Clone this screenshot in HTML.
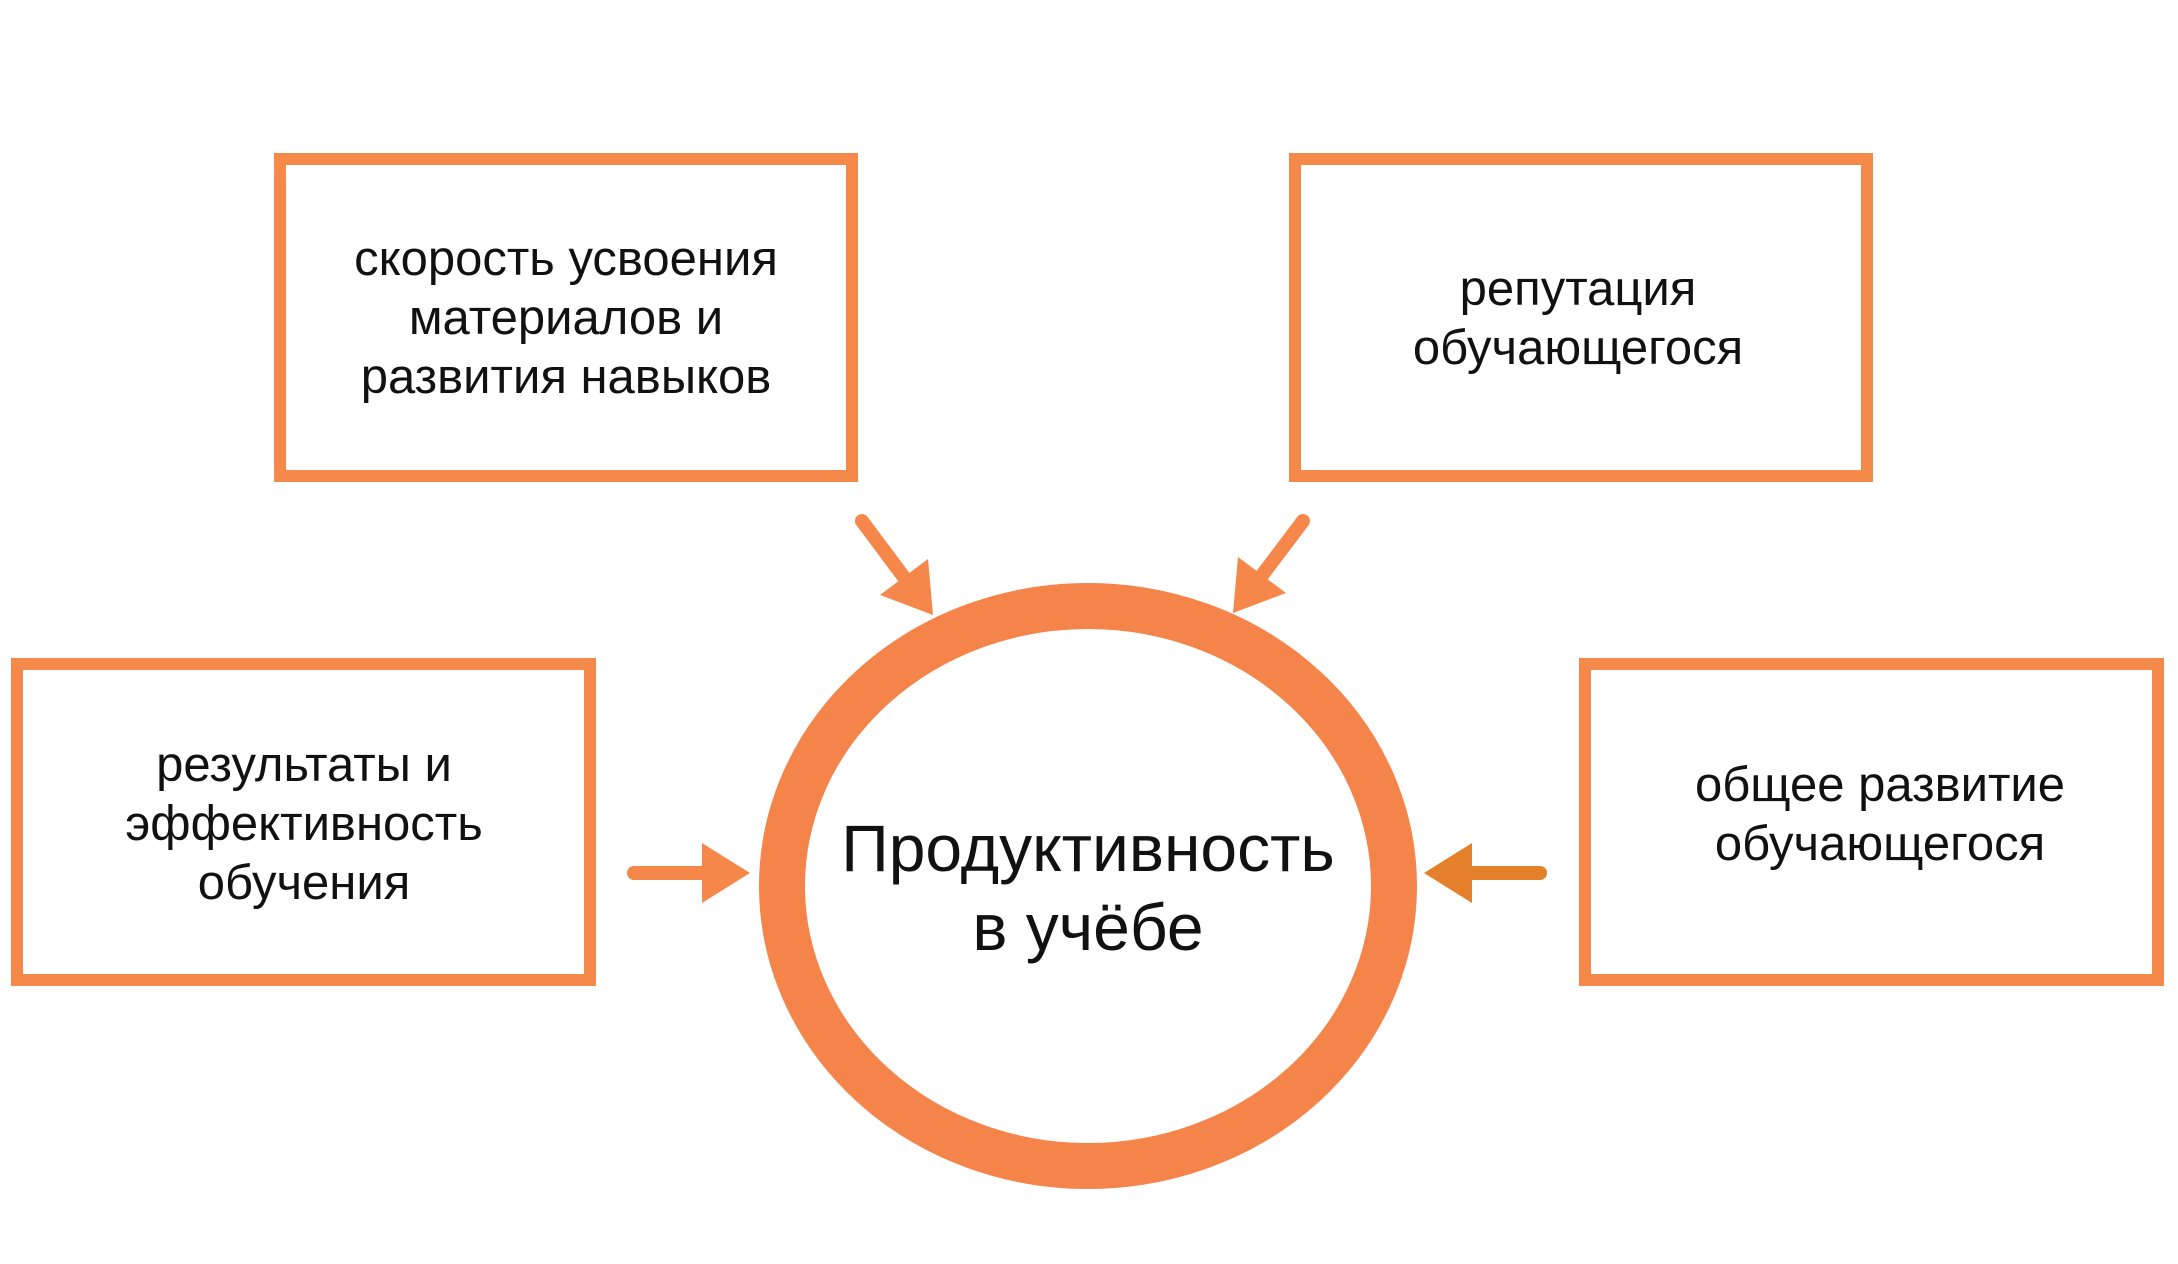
<!DOCTYPE html>
<html><head><meta charset="utf-8"><style>
html,body{margin:0;padding:0;background:#fff;}
svg{display:block}
text{font-family:"Liberation Sans","DejaVu Sans",sans-serif;fill:#111;}
</style></head><body>
<svg width="2178" height="1264" viewBox="0 0 2178 1264" xmlns="http://www.w3.org/2000/svg">
<g fill="none" stroke="#f5894a" stroke-width="12">
<rect x="280" y="159" width="572" height="317"/>
<rect x="1295" y="159" width="572" height="317"/>
<rect x="17" y="664" width="573" height="316"/>
<rect x="1585" y="664" width="573" height="316"/>
</g>
<ellipse cx="1088" cy="886" rx="306" ry="280" fill="none" stroke="#f5844a" stroke-width="46"/>
<g stroke-width="14" stroke-linecap="round" fill="none" stroke="#f5874a">
<line x1="634" y1="873" x2="706" y2="873"/>
<line x1="1540" y1="873" x2="1468" y2="873" stroke="#e5802a"/>
<line x1="862" y1="521" x2="906" y2="580"/>
<line x1="1303" y1="521" x2="1260" y2="578"/>
</g>
<g fill="#f5874a">
<polygon points="750,873 702,843 702,903"/>
<polygon points="1424,873 1472,843 1472,903" fill="#e5802a"/>
<polygon points="933,615 928,559 880,595"/>
<polygon points="1233,613 1286,593 1238,557"/>
</g>
<g font-size="49" text-anchor="middle">
<text x="566" y="275">скорость усвоения</text>
<text x="566" y="334">материалов и</text>
<text x="566" y="393">развития навыков</text>
<text x="1578" y="305">репутация</text>
<text x="1578" y="364">обучающегося</text>
<text x="304" y="781">результаты и</text>
<text x="304" y="840">эффективность</text>
<text x="304" y="899">обучения</text>
<text x="1880" y="801">общее развитие</text>
<text x="1880" y="860">обучающегося</text>
</g>
<g font-size="66" text-anchor="middle">
<text x="1088" y="871">Продуктивность</text>
<text x="1088" y="950">в учёбе</text>
</g>
</svg>
</body></html>
